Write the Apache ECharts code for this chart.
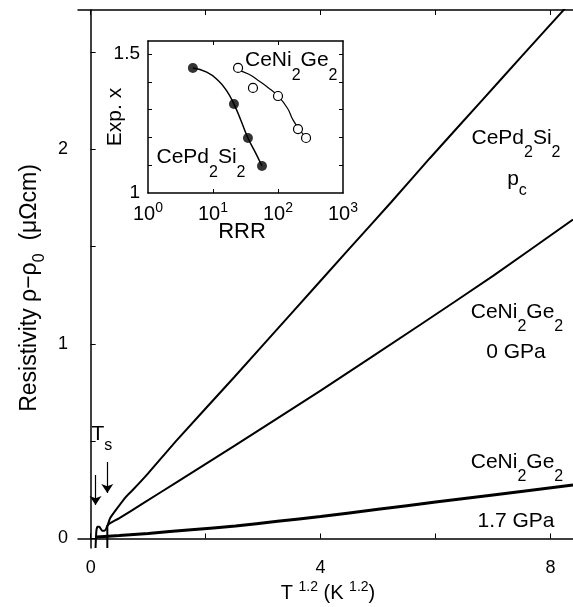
<!DOCTYPE html>
<html><head><meta charset="utf-8">
<script src="https://cdn.jsdelivr.net/npm/echarts@6/dist/echarts.min.js"></script>
<style>html,body{margin:0;padding:0;background:#fff}#c{width:573px;height:607px}</style>
</head><body><div id="c"></div>
<script>
// ---- main panel: x = T^1.2 (K^1.2), y = rho - rho0 (μΩcm)
const pdT   = [0.29, 0.29, 0.31, 0.34, 0.44, 0.61, 0.74, 1.0, 1.5, 2.5, 3.5, 4.5, 5.23, 5.9, 6.8, 7.5, 8.39];
const pdRho = [-0.049, 0.06, 0.08, 0.105, 0.147, 0.213, 0.252, 0.335, 0.506, 0.83, 1.16, 1.49, 1.73, 1.955, 2.25, 2.48, 2.77];

const ni0T   = [0.085, 0.1, 0.12, 0.15, 0.2, 0.24, 0.27, 0.29, 0.32, 0.5, 0.91, 1.5, 2.52, 4.0, 5.74, 7.0, 8.39];
const ni0Rho = [-0.049, 0.04, 0.06, 0.06, 0.04, 0.04, 0.05, 0.065, 0.075, 0.105, 0.18, 0.29, 0.48, 0.76, 1.10, 1.35, 1.64];

const ni17T   = [0.1, 0.5, 1.0, 1.75, 2.52, 3.25, 4.0, 5.0, 6.0, 7.0, 8.39];
const ni17Rho = [0.008, 0.015, 0.026, 0.045, 0.064, 0.088, 0.113, 0.15, 0.187, 0.224, 0.275];

// T_s arrows (x position, top, tip)
const tsX      = [0.085, 0.29];
const tsTop    = [0.326, 0.393];
const tsBottom = [0.172, 0.234];

const mainXTicks  = [0, 2, 4, 6, 8];
const mainXLabels = [0, 4, 8];
const mainYTicks  = [0, 0.5, 1, 1.5, 2, 2.5];
const mainYLabels = [0, 1, 2];

// ---- inset: exponent x vs RRR
const pdRRR  = [4.9, 21, 34.5, 56.7];
const pdExp  = [1.45, 1.32, 1.198, 1.097];
const pdFitRRR = [4.9, 8, 12, 16, 21, 27, 34.5, 45, 56.7];
const pdFitExp = [1.45, 1.435, 1.405, 1.37, 1.32, 1.26, 1.198, 1.145, 1.097];

const niRRR  = [24.3, 41.2, 100, 203, 270];
const niExp  = [1.45, 1.378, 1.349, 1.23, 1.198];
const niFitRRR = [24.3, 35, 49, 70, 100, 140, 170, 220, 270];
const niFitExp = [1.442, 1.428, 1.406, 1.38, 1.349, 1.305, 1.263, 1.225, 1.198];

const insetXTicks  = [10, 100];
const insetXLabels = [1, 10, 100, 1000];
const insetYTicks  = [1.1, 1.2, 1.3, 1.4, 1.5];
const insetYLabels = [1, 1.5];

const FONT = '"Liberation Sans", Arial, Helvetica, sans-serif';
function zip(a, b) { return a.map((v, i) => [v, b[i]]); }
// rich styles: every token top-aligned; token 'height' sets where its centre sits
function mkRich(fs, sfs, subOff, letOff, supOff) {
  const H = fs + 4;
  const st = (size, h) => ({fontSize: size, height: h, lineHeight: h, verticalAlign: 'top', fontFamily: FONT, color: '#000'});
  return {n: st(fs, H), s: st(sfs, H + 2 * subOff), t: st(sfs, H + 2 * letOff), p: st(sfs, Math.max(2, H - 2 * supOff))};
}
const R21 = mkRich(21, 16, 15, 12, 7);
const R20 = mkRich(20, 14, 10, 10, 6);
const RY  = mkRich(23, 16, 10, 10, 6);

const chart = echarts.init(document.getElementById('c'));
const axBlack = {lineStyle: {color: '#000', width: 1.5}};

const option = {
  animation: false,
  backgroundColor: '#fff',
  grid: [
    {left: 78, top: 10, width: 509, height: 538},
    {left: 148, top: 41, width: 195, height: 152}
  ],
  xAxis: [
    {gridIndex: 0, type: 'value', min: -0.22, max: 8.39, position: 'bottom',
     axisLine: axBlack, splitLine: {show: false},
     axisTick: {inside: true, length: 5, customValues: mainXTicks, lineStyle: {color: '#000', width: 1}},
     axisLabel: {customValues: mainXLabels, margin: 11, fontSize: 18, fontFamily: FONT, color: '#000'}},
    {gridIndex: 0, type: 'value', min: -0.22, max: 8.39, position: 'top',
     axisLine: axBlack, splitLine: {show: false},
     axisTick: {inside: true, length: 5, customValues: mainXTicks, lineStyle: {color: '#000', width: 1}},
     axisLabel: {show: false}},
    {gridIndex: 1, type: 'log', logBase: 10, min: 1, max: 1000, position: 'bottom',
     axisLine: axBlack, splitLine: {show: false},
     axisTick: {inside: true, length: 4, customValues: insetXTicks, lineStyle: {color: '#000', width: 1}},
     axisLabel: {customValues: insetXLabels, margin: 9, showMinLabel: true, showMaxLabel: true,
       formatter: v => '{n|10}{p|' + Math.round(Math.log10(v)) + '}', rich: R20}},
    {gridIndex: 1, type: 'log', logBase: 10, min: 1, max: 1000, position: 'top',
     axisLine: axBlack, splitLine: {show: false},
     axisTick: {inside: true, length: 4, customValues: insetXTicks, lineStyle: {color: '#000', width: 1}},
     axisLabel: {show: false}}
  ],
  yAxis: [
    {gridIndex: 0, type: 'value', min: -0.049, max: 2.717, position: 'left',
     axisLine: {show: true, lineStyle: {color: '#000', width: 1.5}}, splitLine: {show: false},
     axisTick: {show: true, inside: true, length: 5, customValues: mainYTicks, lineStyle: {color: '#000', width: 1}},
     axisLabel: {customValues: mainYLabels, margin: 10, fontSize: 18, fontFamily: FONT, color: '#000'}},
    {gridIndex: 1, type: 'value', min: 1, max: 1.547, position: 'left',
     axisLine: {show: true, lineStyle: {color: '#000', width: 1.5}}, splitLine: {show: false},
     axisTick: {show: true, inside: true, length: 4, customValues: insetYTicks, lineStyle: {color: '#000', width: 1}},
     axisLabel: {customValues: insetYLabels, margin: 8, fontSize: 19, fontFamily: FONT, color: '#000',
       showMinLabel: true, showMaxLabel: true}},
    {gridIndex: 1, type: 'value', min: 1, max: 1.547, position: 'right',
     axisLine: {show: true, lineStyle: {color: '#000', width: 1.5}}, splitLine: {show: false},
     axisTick: {show: true, inside: true, length: 4, customValues: insetYTicks, lineStyle: {color: '#000', width: 1}},
     axisLabel: {show: false}}
  ],
  series: [
    {type: 'line', xAxisIndex: 0, yAxisIndex: 0, data: zip(pdT, pdRho), showSymbol: false, smooth: 0.2,
     lineStyle: {color: '#000', width: 2}},
    {type: 'line', xAxisIndex: 0, yAxisIndex: 0, data: zip(ni0T, ni0Rho), showSymbol: false, smooth: 0.2,
     lineStyle: {color: '#000', width: 2}},
    {type: 'line', xAxisIndex: 0, yAxisIndex: 0, data: zip(ni17T, ni17Rho), showSymbol: false, smooth: 0.2,
     lineStyle: {color: '#000', width: 3}},
    {type: 'lines', coordinateSystem: 'cartesian2d', xAxisIndex: 0, yAxisIndex: 0,
     symbol: ['none', 'arrow'], symbolSize: 9,
     lineStyle: {color: '#000', width: 1.2, opacity: 1},
     data: tsX.map((x, i) => ({coords: [[x, tsTop[i]], [x, tsBottom[i]]]}))},
    {type: 'line', xAxisIndex: 2, yAxisIndex: 1, data: zip(pdFitRRR, pdFitExp), showSymbol: false, smooth: true,
     lineStyle: {color: '#000', width: 1.5}, z: 2},
    {type: 'line', xAxisIndex: 2, yAxisIndex: 1, data: zip(niFitRRR, niFitExp), showSymbol: false, smooth: true,
     lineStyle: {color: '#000', width: 1.2}, z: 2},
    {type: 'scatter', xAxisIndex: 2, yAxisIndex: 1, data: zip(pdRRR, pdExp), symbol: 'circle', symbolSize: 10,
     itemStyle: {color: '#000'}, z: 3},
    {type: 'scatter', xAxisIndex: 2, yAxisIndex: 1, data: zip(niRRR, niExp), symbol: 'circle', symbolSize: 9,
     itemStyle: {color: '#fff', borderColor: '#000', borderWidth: 1.2, opacity: 1}, z: 3}
  ],
  graphic: [
    // y-axis title (rotated)
    {type: 'text', x: 30 - 13.5, y: 288, rotation: Math.PI / 2,
     style: {text: '{n|Resistivity ρ−ρ}{s|0}{n|  (μΩcm)}', rich: RY, align: 'center', verticalAlign: 'top'}},
    // x-axis title
    {type: 'text', x: 328, y: 593 - 12,
     style: {text: '{n|T }{p|1.2}{n| (K }{p|1.2}{n|)}', rich: R20, align: 'center', verticalAlign: 'top'}},
    // curve labels
    {type: 'text', x: 516, y: 138 - 12.5, style: {text: '{n|CePd}{s|2}{n|Si}{s|2}', rich: R21, align: 'center', verticalAlign: 'top'}},
    {type: 'text', x: 517, y: 179 - 12.5, style: {text: '{n|p}{t|c}', rich: R21, align: 'center', verticalAlign: 'top'}},
    {type: 'text', x: 517, y: 312 - 12.5, style: {text: '{n|CeNi}{s|2}{n|Ge}{s|2}', rich: R21, align: 'center', verticalAlign: 'top'}},
    {type: 'text', x: 516, y: 352 - 12.5, style: {text: '{n|0 GPa}', rich: R21, align: 'center', verticalAlign: 'top'}},
    {type: 'text', x: 517, y: 462 - 12.5, style: {text: '{n|CeNi}{s|2}{n|Ge}{s|2}', rich: R21, align: 'center', verticalAlign: 'top'}},
    {type: 'text', x: 516, y: 521 - 12.5, style: {text: '{n|1.7 GPa}', rich: R21, align: 'center', verticalAlign: 'top'}},
    {type: 'text', x: 91.5, y: 434 - 12.5, style: {text: '{n|T}{t|s}', rich: R21, align: 'left', verticalAlign: 'top'}},
    // inset labels
    {type: 'text', x: 245, y: 60.5 - 12.5, style: {text: '{n|CeNi}{s|2}{n|Ge}{s|2}', rich: R21, align: 'left', verticalAlign: 'top'}},
    {type: 'text', x: 156.5, y: 157.5 - 12.5, style: {text: '{n|CePd}{s|2}{n|Si}{s|2}', rich: R21, align: 'left', verticalAlign: 'top'}},
    {type: 'text', x: 115 - 12.5, y: 117, rotation: Math.PI / 2,
     style: {text: '{n|Exp. x}', rich: R21, align: 'center', verticalAlign: 'top'}},
    {type: 'text', x: 242, y: 232, style: {text: 'RRR', font: '22px ' + FONT, fill: '#000', align: 'center', verticalAlign: 'middle'}}
  ]
};
chart.setOption(option);
</script>
</body></html>
